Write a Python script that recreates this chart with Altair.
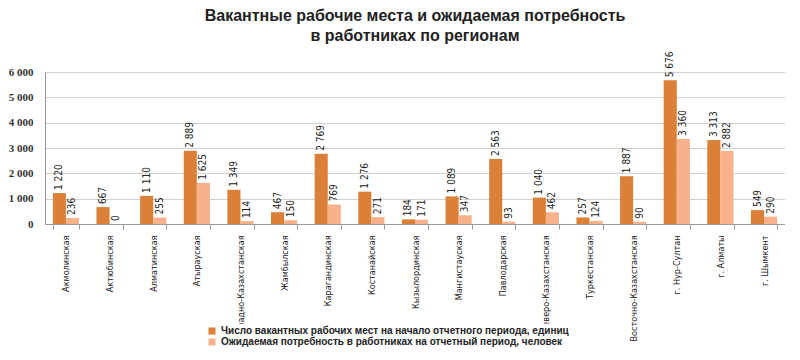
import altair as alt
import pandas as pd

regions = ["Акмолинская", "Актюбинская", "Алматинская", "Атырауская",
           "Западно-Казахстанская", "Жамбылская", "Карагандинская", "Костанайская",
           "Кызылординская", "Мангистауская", "Павлодарская", "Северо-Казахстанская",
           "Туркестанская", "Восточно-Казахстанская", "г. Нур-Султан", "г. Алматы", "г. Шымкент"]
vacancies = [1220, 667, 1110, 2889, 1349, 467, 2769, 1276, 184, 1089, 2563, 1040, 257, 1887, 5676, 3313, 549]
demand = [236, 0, 255, 1625, 114, 150, 769, 271, 171, 347, 93, 462, 124, 90, 3360, 2882, 290]
series = ["Число вакантных рабочих мест на начало отчетного периода, единиц",
          "Ожидаемая потребность в работниках на отчетный период, человек"]
colors = ["#DA8038", "#F7B28C"]
narrow = "'DejaVu Sans Condensed', 'Liberation Sans Narrow', 'Roboto Condensed', 'Liberation Sans', sans-serif"

rows = []
for i, r in enumerate(regions):
    rows.append({"region": r, "series": series[0], "value": vacancies[i]})
    rows.append({"region": r, "series": series[1], "value": demand[i]})
df = pd.DataFrame(rows)

x = alt.X("region:N", sort=regions, title=None,
          scale=alt.Scale(paddingInner=0.4, paddingOuter=0.18),
          axis=alt.Axis(labelAngle=-90, labelFontSize=9, labelColor="#222",
                        labelFont=narrow, domainColor="#999",
                        tickColor="#999", tickBand="extent", tickSize=5, labelPadding=6))
xoff = alt.XOffset("series:N", sort=series)
yaxis = alt.Axis(values=[0, 1000, 2000, 3000, 4000, 5000, 6000],
                 labelExpr="replace(format(datum.value, ','), ',', ' ')",
                 labelOverlap=False, labelFont="Liberation Serif",
                 labelFontWeight="bold", labelFontSize=11, labelColor="#333",
                 gridColor="#d0d0d0", domainColor="#999", ticks=False,
                 labelPadding=12)

base = alt.Chart(df).transform_calculate(
    label="replace(format(datum.value, ','), ',', ' ')"
)

bars = base.mark_bar().encode(
    x=x, xOffset=xoff,
    y=alt.Y("value:Q", title=None, scale=alt.Scale(domain=[0, 6000]), axis=yaxis),
    color=alt.Color("series:N", sort=series,
                    scale=alt.Scale(domain=series, range=colors),
                    legend=alt.Legend(title=None, orient="none", legendX=160, legendY=252,
                                      symbolType="square", symbolSize=50,
                                      labelFontSize=10, labelFontWeight="bold",
                                      labelColor="#222", rowPadding=1, labelLimit=600,
                                      fillColor="white", padding=2)),
)

labels = base.mark_text(angle=270, align="left", baseline="middle", dx=3,
                        fontSize=10, font=narrow, color="#222").encode(
    x=x, xOffset=xoff,
    y=alt.Y("value:Q", title=None, scale=alt.Scale(domain=[0, 6000]), axis=yaxis),
    text="label:N"
)

chart = (bars + labels).properties(
    width=740, height=152,
    title=alt.TitleParams(["Вакантные рабочие места и ожидаемая потребность",
                           "в работниках по регионам"],
                          fontSize=16, fontWeight="bold", anchor="middle",
                          color="#222", offset=7, lineHeight=20),
    padding={"left": 0, "top": 0, "right": 0, "bottom": 5},
).configure_view(stroke=None)

chart.save("out.html", embed_options={"renderer": "svg", "actions": False})
